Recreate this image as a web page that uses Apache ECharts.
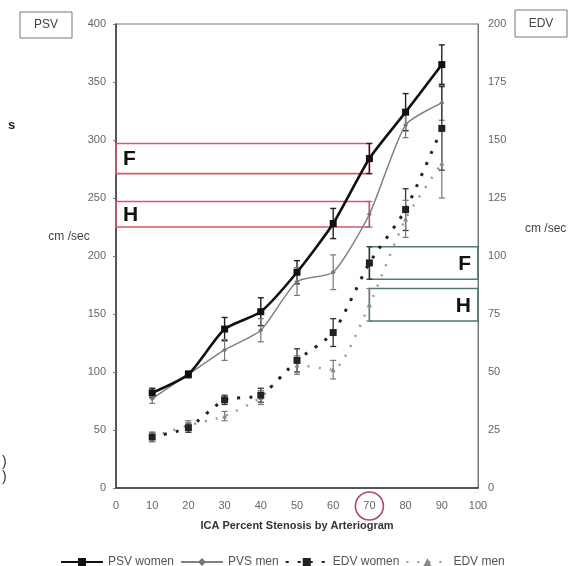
<!DOCTYPE html>
<html>
<head>
<meta charset="utf-8">
<script src="https://cdn.jsdelivr.net/npm/echarts@6/dist/echarts.min.js"></script>
<style>
html,body{margin:0;padding:0;background:#fff;}
#c{width:581px;height:566px;}
</style>
</head>
<body>
<div id="c"></div>
<script>
// ---- data ----
const stenosis = [10, 20, 30, 40, 50, 60, 70, 80, 90];
const psvWomen = [82, 98, 137, 152, 186, 228, 284, 324, 365];
const psvWomenErr = [4, 3, 10, 12, 10, 13, 13, 16, 17];
const psvMen = [77, 98, 119, 136, 178, 186, 236, 313, 332];
const psvMenErr = [4, 3, 9, 10, 12, 15, 11, 11, 15];
const edvWomen = [22, 26, 38, 40, 55, 67, 97, 120, 155];
const edvWomenErr = [2, 2, 2, 3, 5, 6, 7, 9, 18];
const edvMen = [22, 27, 31, 39, 53, 51, 79, 116, 140];
const edvMenErr = [2, 2, 2, 3, 4, 4, 7, 8, 15];
const seriesNames = ['PSV women', 'PVS men', 'EDV women', 'EDV men'];
const xTicks = [0, 10, 20, 30, 40, 50, 60, 70, 80, 90, 100];
const psvTicks = [0, 50, 100, 150, 200, 250, 300, 350, 400];
const edvTicks = [0, 25, 50, 75, 100, 125, 150, 175, 200];
const threshold = 70;
const boxLetters = ['F', 'H'];

// ---- helpers ----
const FONT = '"Liberation Sans", Arial, sans-serif';
function pts(vals) { return stenosis.map((x, i) => [x, vals[i]]); }
function errs(vals, e) { return stenosis.map((x, i) => [x, vals[i] - e[i], vals[i] + e[i]]); }
function errSeries(vals, e, axis, color, w) {
  return {
    type: 'custom', yAxisIndex: axis, silent: true, z: 3,
    data: errs(vals, e),
    renderItem: function (params, api) {
      const x = api.value(0);
      const lo = api.coord([x, api.value(1)]);
      const hi = api.coord([x, api.value(2)]);
      const c = 3;
      const st = { stroke: color, lineWidth: w };
      return { type: 'group', children: [
        { type: 'line', shape: { x1: lo[0], y1: lo[1], x2: hi[0], y2: hi[1] }, style: st },
        { type: 'line', shape: { x1: lo[0] - c, y1: lo[1], x2: lo[0] + c, y2: lo[1] }, style: st },
        { type: 'line', shape: { x1: hi[0] - c, y1: hi[1], x2: hi[0] + c, y2: hi[1] }, style: st }
      ]};
    }
  };
}
const i70 = stenosis.indexOf(threshold);
function boxSeries(axis, x0, x1, ranges, color, letterSide) {
  return {
    type: 'custom', yAxisIndex: axis, silent: true, z: 1,
    data: ranges.map((r, k) => [x0, x1, r[0], r[1], k]),
    renderItem: function (params, api) {
      const a = api.coord([api.value(0), api.value(3)]);
      const b = api.coord([api.value(1), api.value(2)]);
      const letter = boxLetters[api.value(4)];
      const midY = (a[1] + b[1]) / 2;
      return { type: 'group', children: [
        { type: 'rect', shape: { x: a[0], y: a[1], width: b[0] - a[0], height: b[1] - a[1] },
          style: { fill: 'none', stroke: color, lineWidth: 1.6 } },
        { type: 'text', style: {
            text: letter, x: letterSide === 'left' ? a[0] + 7 : b[0] - 7, y: midY + 1,
            align: letterSide === 'left' ? 'left' : 'right', verticalAlign: 'middle',
            font: 'bold 21px ' + FONT, fill: '#111' } }
      ]};
    }
  };
}

const chart = echarts.init(document.getElementById('c'), null, { renderer: 'canvas' });
const axisLabelStyle = { color: '#666', fontSize: 11, fontFamily: FONT };
const option = {
  animation: false,
  backgroundColor: '#fff',
  grid: { left: 116, right: 103, top: 24, bottom: 78, show: true, borderColor: '#777', borderWidth: 1 },
  xAxis: {
    type: 'value', min: xTicks[0], max: xTicks[xTicks.length - 1], interval: 10,
    axisLine: { show: true, lineStyle: { color: '#333', width: 1.5 } },
    axisTick: { show: false }, splitLine: { show: false },
    axisLabel: Object.assign({ margin: 12 }, axisLabelStyle),
    name: 'ICA Percent Stenosis by Arteriogram', nameLocation: 'middle', nameGap: 32,
    nameTextStyle: { fontWeight: 'bold', fontSize: 11, color: '#333', fontFamily: FONT }
  },
  yAxis: [
    { type: 'value', min: psvTicks[0], max: psvTicks[psvTicks.length - 1], interval: 50,
      axisLine: { show: true, lineStyle: { color: '#333', width: 1.5 } },
      axisTick: { show: true, length: 3, lineStyle: { color: '#777' } }, splitLine: { show: false },
      axisLabel: Object.assign({ margin: 10 }, axisLabelStyle) },
    { type: 'value', min: edvTicks[0], max: edvTicks[edvTicks.length - 1], interval: 25, position: 'right',
      axisLine: { show: true, lineStyle: { color: '#777', width: 1 } },
      axisTick: { show: false }, splitLine: { show: false },
      axisLabel: Object.assign({ margin: 10 }, axisLabelStyle) }
  ],
  legend: {
    top: 551, left: 55, itemWidth: 42, itemHeight: 10, itemGap: 6,
    textStyle: { color: '#555', fontSize: 12, fontFamily: FONT },
    data: seriesNames
  },
  series: [
    boxSeries(0, 0, threshold,
      [[psvWomen[i70] - psvWomenErr[i70], psvWomen[i70] + psvWomenErr[i70]],
       [psvMen[i70] - psvMenErr[i70], psvMen[i70] + psvMenErr[i70]]], '#d25a6a', 'left'),
    boxSeries(1, threshold, 100,
      [[edvWomen[i70] - edvWomenErr[i70], edvWomen[i70] + edvWomenErr[i70]],
       [edvMen[i70] - edvMenErr[i70], edvMen[i70] + edvMenErr[i70]]], '#4f7c66', 'right'),
    errSeries(psvWomen, psvWomenErr, 0, '#222', 1.4),
    errSeries(psvMen, psvMenErr, 0, '#777', 1.2),
    errSeries(edvWomen, edvWomenErr, 1, '#333', 1.3),
    errSeries(edvMen, edvMenErr, 1, '#777', 1.2),
    { name: seriesNames[0], type: 'line', yAxisIndex: 0, data: pts(psvWomen), z: 5, smooth: 0.2,
      symbol: 'rect', symbolSize: 7, itemStyle: { color: '#111' },
      lineStyle: { color: '#111', width: 2.6 } },
    { name: seriesNames[1], type: 'line', yAxisIndex: 0, data: pts(psvMen), z: 4, smooth: 0.2,
      symbol: 'diamond', symbolSize: 5, itemStyle: { color: '#777' },
      lineStyle: { color: '#808080', width: 1.5 } },
    { name: seriesNames[2], type: 'line', yAxisIndex: 1, data: pts(edvWomen), z: 5, smooth: 0.2,
      symbol: 'rect', symbolSize: 7, itemStyle: { color: '#222' },
      lineStyle: { color: '#222', width: 3, type: [3, 9] } },
    { name: seriesNames[3], type: 'line', yAxisIndex: 1, data: pts(edvMen), z: 4, smooth: 0.2,
      symbol: 'triangle', symbolSize: 5, itemStyle: { color: '#888' },
      lineStyle: { color: '#999', width: 2.4, type: [2, 9] } }
  ]
};
chart.setOption(option);

// annotations
const cx = chart.convertToPixel({ xAxisIndex: 0 }, threshold);
chart.setOption({
  graphic: [
    { type: 'rect', shape: { x: 20, y: 12, width: 52, height: 26 }, style: { fill: '#fff', stroke: '#777', lineWidth: 1 } },
    { type: 'text', style: { text: 'PSV', x: 46, y: 25, align: 'center', verticalAlign: 'middle', font: '12px ' + FONT, fill: '#444' } },
    { type: 'rect', shape: { x: 515, y: 10, width: 52, height: 27 }, style: { fill: '#fff', stroke: '#777', lineWidth: 1 } },
    { type: 'text', style: { text: 'EDV', x: 541, y: 24, align: 'center', verticalAlign: 'middle', font: '12px ' + FONT, fill: '#444' } },
    { type: 'text', style: { text: 'cm /sec', x: 69, y: 237, align: 'center', verticalAlign: 'middle', font: '12px ' + FONT, fill: '#444' } },
    { type: 'text', style: { text: 'cm /sec', x: 525, y: 229, align: 'left', verticalAlign: 'middle', font: '12px ' + FONT, fill: '#444' } },
    { type: 'text', style: { text: 's', x: 8, y: 125, align: 'left', verticalAlign: 'middle', font: 'bold 13px ' + FONT, fill: '#222' } },
    { type: 'text', style: { text: ')', x: 2, y: 462, align: 'left', verticalAlign: 'middle', font: '14px ' + FONT, fill: '#333' } },
    { type: 'text', style: { text: ')', x: 2, y: 477, align: 'left', verticalAlign: 'middle', font: '14px ' + FONT, fill: '#333' } },
    { type: 'circle', shape: { cx: cx, cy: 506, r: 14 }, style: { fill: 'none', stroke: '#b04a5e', lineWidth: 1.6 } }
  ]
});
</script>
</body>
</html>
